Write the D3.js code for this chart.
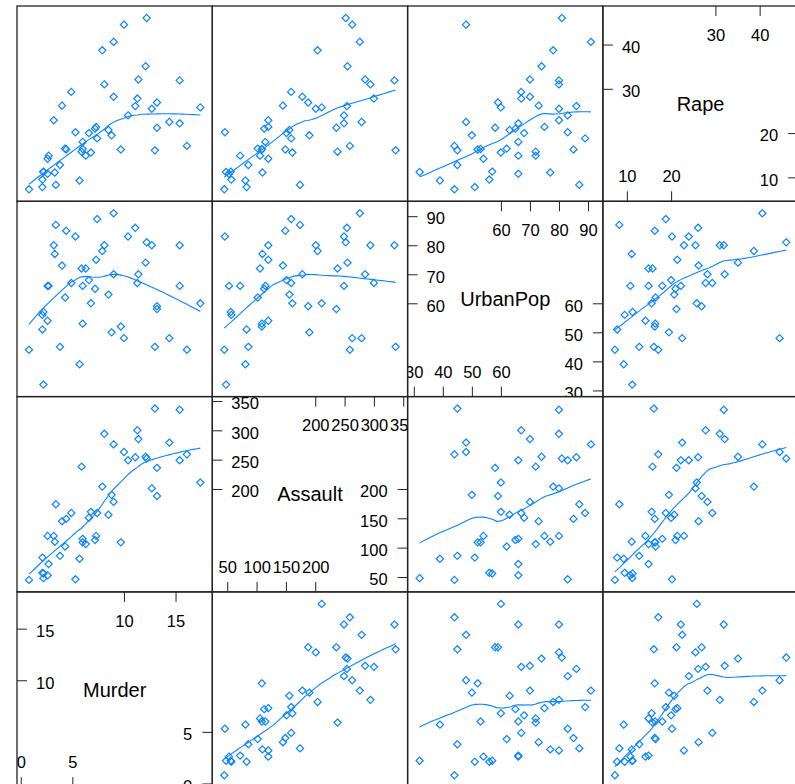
<!DOCTYPE html>
<html>
<head>
<meta charset="utf-8">
<script src="https://cdn.jsdelivr.net/npm/d3@7"></script>
<style>
  body { margin: 0; background: #fff; }
  svg text { font-family: "Liberation Sans", Arial, sans-serif; }
</style>
</head>
<body>
<div id="chart"></div>
<script>
// USArrests, one value per state (Alabama ... Wyoming)
var varNames = ["Murder", "Assault", "UrbanPop", "Rape"];
var murder = [13.2, 10.0, 8.1, 8.8, 9.0, 7.9, 3.3, 5.9, 15.4, 17.4, 5.3, 2.6, 10.4, 7.2, 2.2, 6.0, 9.7, 15.4, 2.1, 11.3,
              4.4, 12.1, 2.7, 16.1, 9.0, 6.0, 4.3, 12.2, 2.1, 7.4, 11.4, 11.1, 13.0, 0.8, 7.3, 6.6, 4.9, 6.3, 3.4, 14.4,
              3.8, 13.2, 12.7, 3.2, 2.2, 8.5, 4.0, 5.7, 2.6, 6.8];
var assault = [236, 263, 294, 190, 276, 204, 110, 238, 335, 211, 46, 120, 249, 113, 56, 115, 109, 249, 83, 300,
               149, 255, 72, 259, 178, 109, 102, 252, 57, 159, 285, 254, 337, 45, 120, 151, 159, 106, 174, 279,
               86, 188, 201, 120, 48, 156, 145, 81, 53, 161];
var urbanPop = [58, 48, 80, 50, 91, 78, 77, 72, 80, 60, 83, 54, 83, 65, 57, 66, 52, 66, 51, 67,
                85, 74, 66, 44, 70, 53, 62, 81, 56, 89, 70, 86, 45, 44, 75, 68, 67, 72, 87, 48,
                45, 59, 80, 80, 32, 63, 73, 39, 66, 60];
var rape = [21.2, 44.5, 31.0, 19.5, 40.6, 38.7, 11.1, 15.8, 31.9, 25.8, 20.2, 14.2, 24.0, 21.0, 11.3, 18.0, 16.3, 22.2, 7.8, 27.8,
            16.3, 35.1, 14.9, 17.1, 28.2, 16.4, 16.5, 46.0, 9.5, 18.8, 32.1, 26.1, 16.1, 7.3, 21.4, 20.0, 29.3, 14.9, 8.3, 22.5,
            12.8, 26.9, 25.5, 22.9, 11.2, 20.7, 26.2, 9.3, 10.8, 15.6];

// tick labels on the diagonal panels
var murderTicks = [0, 5, 10, 15];
var assaultTicks = [50, 100, 150, 200, 250, 300, 350];
var urbanPopTicks = [30, 40, 50, 60, 70, 80, 90];
var rapeTicks = [10, 20, 30, 40];

var columns = [murder, assault, urbanPop, rape];
var tickSets = [murderTicks, assaultTicks, urbanPopTicks, rapeTicks];

var width = 795, height = 784;
var gridX = 17, gridY = 6, size = 195.3;
var col = "#0a84ff";
var frame = "#222";

// lattice pads the data range by 7% on each side
function padded(v) {
  var e = d3.extent(v), p = (e[1] - e[0]) * 0.07;
  return [e[0] - p, e[1] + p];
}
var xs = columns.map(function(v) { return d3.scaleLinear().domain(padded(v)).range([0, size]); });
var ys = columns.map(function(v) { return d3.scaleLinear().domain(padded(v)).range([size, 0]); });

// loess, degree 1, span 2/3, symmetric family (as panel.loess)
function loess(x, y, span, iters, nEval) {
  var n = x.length, q = Math.floor(n * span);
  var robust = x.map(function() { return 1; });
  function fitAt(x0) {
    var d = x.map(function(v) { return Math.abs(v - x0); });
    var h = d.slice().sort(d3.ascending)[q - 1] || 1e-9;
    var sw = 0, sx = 0, sy = 0;
    var w = d.map(function(di, i) {
      var u = di / h, t = u < 1 ? Math.pow(1 - u * u * u, 3) : 0;
      t *= robust[i];
      sw += t; sx += t * x[i]; sy += t * y[i];
      return t;
    });
    var mx = sx / sw, my = sy / sw, sxx = 0, sxy = 0;
    w.forEach(function(t, i) {
      sxx += t * (x[i] - mx) * (x[i] - mx);
      sxy += t * (x[i] - mx) * (y[i] - my);
    });
    var b = sxx > 0 ? sxy / sxx : 0;
    return my + b * (x0 - mx);
  }
  for (var j = 1; j <= iters; j++) {
    var fitted = x.map(fitAt);
    if (j == iters) break;
    var res = y.map(function(v, i) { return v - fitted[i]; });
    var cmad = 6 * d3.median(res.map(Math.abs));
    robust = res.map(function(r) {
      var a = Math.abs(r);
      if (a <= 0.001 * cmad) return 1;
      if (a > 0.999 * cmad) return 0;
      var u = r / cmad;
      return (1 - u * u) * (1 - u * u);
    });
  }
  var e = d3.extent(x);
  return d3.range(nEval).map(function(k) {
    var gx = e[0] + (e[1] - e[0]) * k / (nEval - 1);
    return [gx, fitAt(gx)];
  });
}

var svg = d3.select("#chart").append("svg")
    .attr("width", width)
    .attr("height", height);

svg.append("rect").attr("width", width).attr("height", height).attr("fill", "#fff");

svg.append("defs").append("clipPath")
    .attr("id", "pclip")
  .append("rect")
    .attr("width", size)
    .attr("height", size);

var diamond = "M0,-3.6L3.6,0L0,3.6L-3.6,0Z";

function styleAxis(g) {
  g.select(".domain").remove();
  g.attr("font-size", 16.5).attr("font-family", "Liberation Sans, Arial, sans-serif");
  g.selectAll(".tick line").attr("stroke", frame);
  g.selectAll(".tick text").attr("fill", "#000");
}

for (var c = 0; c < 4; c++) {
  for (var r = 0; r < 4; r++) {
    var yi = 3 - r, xi = c;
    var g = svg.append("g")
        .attr("transform", "translate(" + (gridX + c * size) + "," + (gridY + r * size) + ")");
    var inner = g.append("g").attr("clip-path", "url(#pclip)");

    if (xi == yi) {
      var t = tickSets[xi], n = t.length;
      var lower = t.slice(0, Math.ceil(n / 2)), upper = t.slice(Math.floor(n / 2));

      inner.append("text")
          .attr("x", size / 2)
          .attr("y", size / 2)
          .attr("dy", "0.35em")
          .attr("text-anchor", "middle")
          .attr("font-size", 20)
          .text(varNames[xi]);

      inner.append("g")
          .call(d3.axisRight(ys[xi]).tickValues(upper).tickSize(10).tickPadding(9))
          .call(styleAxis)
          .selectAll(".tick text").attr("dy", "0.47em");
      inner.append("g")
          .attr("transform", "translate(" + size + ",0)")
          .call(d3.axisLeft(ys[xi]).tickValues(lower).tickSize(10).tickPadding(10))
          .call(styleAxis)
          .selectAll(".tick text").attr("dy", "0.47em");
      inner.append("g")
          .call(d3.axisBottom(xs[xi]).tickValues(upper).tickSize(10).tickPadding(13))
          .call(styleAxis);
      inner.append("g")
          .attr("transform", "translate(0," + size + ")")
          .call(d3.axisTop(xs[xi]).tickValues(lower).tickSize(10).tickPadding(9))
          .call(styleAxis);
    } else {
      var xv = columns[xi], yv = columns[yi];
      var sx = xs[xi], sy = ys[yi];

      inner.selectAll("path.pt")
          .data(d3.range(xv.length))
        .enter().append("path")
          .attr("class", "pt")
          .attr("d", diamond)
          .attr("transform", function(i) { return "translate(" + sx(xv[i]) + "," + sy(yv[i]) + ")"; })
          .attr("fill", "none")
          .attr("stroke", col)
          .attr("stroke-width", 1.2);

      var fit = loess(xv, yv, 2 / 3, 4, 50);
      inner.append("path")
          .datum(fit)
          .attr("d", d3.line().x(function(d) { return sx(d[0]); }).y(function(d) { return sy(d[1]); }))
          .attr("fill", "none")
          .attr("stroke", col)
          .attr("stroke-width", 1.1);
    }

    g.append("rect")
        .attr("width", size)
        .attr("height", size)
        .attr("fill", "none")
        .attr("stroke", frame)
        .attr("stroke-width", 1.3);
  }
}
</script>
</body>
</html>
